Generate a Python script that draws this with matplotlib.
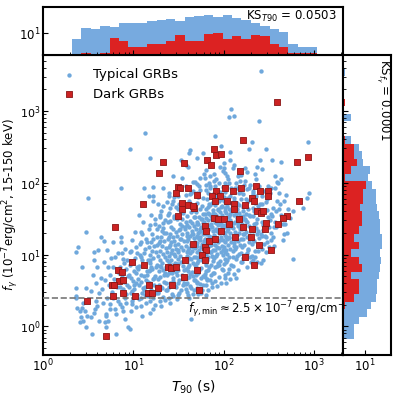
import numpy as np
import matplotlib
matplotlib.use('Agg')
import matplotlib.pyplot as plt
from matplotlib.ticker import NullLocator

# points are (log10 T90 [s], log10 f_gamma [1e-7 erg/cm^2])
typical_outer = [
    (2.41, 3.56), (2.08, 3.03), (2.06, 2.92), (2.12, 2.93), (2.39, 2.86), (1.13, 2.69), (0.96, 2.47),
    (1.90, 2.65), (2.31, 2.57), (1.97, 2.51), (2.28, 2.47), (2.47, 2.47), (2.93, 2.56), (1.19, 2.35),
    (1.63, 2.46), (1.62, 2.42), (2.07, 2.43), (1.77, 2.42), (1.53, 2.32), (1.71, 2.35), (2.54, 2.31),
    (2.63, 2.29), (2.40, 2.32), (2.07, 2.32), (1.58, 2.25), (1.61, 2.22), (2.37, 2.22), (2.43, 2.19),
    (2.00, 2.21), (1.44, 2.10), (1.54, 2.06), (1.66, 2.01), (0.86, 1.93), (0.50, 1.79), (1.12, 1.93),
    (1.22, 1.94), (1.33, 1.92), (1.39, 1.86), (1.17, 1.81), (1.22, 1.82), (1.22, 1.74), (1.27, 1.71),
    (1.50, 1.81), (1.39, 1.81), (1.44, 1.75),
    (2.59, 2.01), (2.60, 1.99), (2.57, 1.93), (2.69, 1.83), (2.94, 1.85), (2.92, 1.79), (2.59, 1.74),
    (2.67, 1.74), (2.88, 1.65), (2.71, 1.64), (2.61, 1.63), (2.77, 1.60), (2.54, 1.54), (2.73, 1.51),
    (2.68, 1.42), (2.58, 1.38), (2.50, 1.38), (2.67, 1.29), (2.41, 1.28), (2.47, 1.25), (2.77, 0.94),
    (2.44, 0.93), (2.37, 0.90), (2.41, 0.88), (2.30, 0.89), (2.33, 0.92), (2.26, 0.83), (2.48, 1.18),
    (2.50, 1.11), (2.46, 1.26), (2.47, 1.03),
]

typical_left = [
    (0.48, 1.31), (0.39, 1.10), (0.64, 1.24), (0.68, 1.19), (0.37, 1.04), (0.56, 1.04), (0.61, 1.07),
    (0.78, 1.17), (0.86, 1.24), (0.86, 1.17), (0.71, 1.07), (0.80, 0.97), (0.89, 0.94), (0.60, 0.83),
    (0.43, 0.83), (0.72, 0.82), (0.96, 1.04), (1.03, 1.10), (1.08, 1.18), (0.64, 0.68), (0.69, 0.65),
    (0.59, 0.61), (0.48, 0.54), (0.53, 0.49), (0.36, 0.43), (0.36, 0.39), (0.43, 0.25), (0.41, 0.22),
    (0.47, 0.21), (0.56, 0.18), (0.58, 0.24), (0.70, 0.17), (0.74, 0.24), (0.80, 0.24), (0.81, 0.17),
    (0.89, 0.21), (0.97, 0.21), (0.92, 0.33), (0.98, 0.31), (0.83, 0.36), (0.91, 0.40), (1.00, 0.40),
    (0.59, 0.35), (0.66, 0.33), (0.74, 0.31), (0.42, 0.13), (0.44, 0.07), (0.48, -0.01), (0.53, 0.13),
    (0.54, -0.11), (0.70, 0.15), (0.81, -0.11), (0.96, -0.03), (0.91, 0.10), (0.72, 0.07), (0.70, -0.01),
    (0.37, 0.53), (0.44, 0.33), (0.38, 0.26), (0.49, 0.14), (0.41, 0.06), (0.62, 0.08), (0.94, -0.01),
    (0.69, 0.06), (1.19, 0.18), (1.22, 0.24), (1.14, 0.33), (1.18, 0.35), (1.64, 0.11),
    (0.55, 0.72), (0.62, 0.47), (0.57, 0.92), (0.60, 0.28), (0.65, 0.52), (0.73, 0.58), (0.67, 0.90),
    (0.71, 0.40), (0.74, 0.71), (0.76, 0.48), (0.79, 0.66), (0.82, 0.55), (0.77, 0.83), (0.84, 0.74),
    (0.75, 0.95), (0.83, 1.02), (0.78, 0.40),
]

typical_core = [
    (0.85, 0.55), (0.87, 0.72), (0.88, 0.48), (0.90, 0.62), (0.92, 0.80), (0.85, 0.31), (0.93, 0.57),
    (0.87, 1.02), (0.90, 0.88), (0.86, 0.66), (0.92, 0.45), (0.89, 0.52), (0.94, 0.70), (0.88, 0.27),
    (0.91, 1.08), (0.93, 0.93), (0.85, 0.82),
    (0.95, 0.55), (0.97, 0.68), (0.99, 0.49), (1.01, 0.77), (1.03, 0.60), (0.96, 0.86), (1.02, 0.95),
    (1.04, 0.44), (0.98, 1.20), (1.00, 0.63), (1.02, 1.31), (0.95, 0.72), (1.04, 0.83), (0.99, 0.36),
    (1.01, 0.52), (0.97, 1.05), (1.03, 0.27), (1.00, 0.90),
    (1.06, 0.58), (1.08, 0.72), (1.10, 0.47), (1.12, 0.85), (1.14, 0.64), (1.07, 0.99), (1.09, 1.32),
    (1.11, 0.53), (1.13, 1.08), (1.06, 0.38), (1.10, 0.92), (1.12, 0.70), (1.14, 1.21), (1.08, 0.29),
    (1.11, 1.45), (1.05, 0.80), (1.13, 0.44), (1.09, 0.62), (1.07, 1.15), (1.12, 1.02), (1.15, 0.77),
    (1.10, 0.15), (1.06, 1.55),
    (1.16, 0.62), (1.18, 0.78), (1.20, 0.51), (1.22, 0.95), (1.24, 0.70), (1.17, 1.10), (1.19, 0.88),
    (1.21, 1.28), (1.23, 0.58), (1.25, 1.03), (1.16, 0.43), (1.20, 1.17), (1.22, 0.66), (1.24, 1.42),
    (1.18, 0.99), (1.21, 0.80), (1.25, 0.47), (1.17, 1.36), (1.23, 1.12), (1.19, 0.60), (1.26, 0.86),
    (1.20, 1.55), (1.16, 0.92), (1.24, 0.30), (1.22, 1.22),
    (1.27, 0.66), (1.29, 0.84), (1.31, 0.55), (1.33, 1.01), (1.35, 0.74), (1.28, 1.16), (1.30, 0.93),
    (1.32, 1.33), (1.34, 0.62), (1.36, 1.09), (1.27, 0.46), (1.31, 1.24), (1.33, 0.79), (1.35, 1.48),
    (1.29, 1.05), (1.32, 0.88), (1.36, 0.51), (1.28, 1.40), (1.34, 1.19), (1.30, 0.69), (1.27, 0.98),
    (1.31, 1.60), (1.33, 0.41), (1.35, 0.97), (1.29, 0.35), (1.32, 1.12), (1.34, 1.30), (1.28, 0.77),
    (1.30, 1.52), (1.36, 0.83), (1.33, 1.68), (1.26, 1.25), (1.31, 0.28),
    (1.37, 0.71), (1.39, 0.89), (1.41, 0.60), (1.43, 1.06), (1.45, 0.79), (1.38, 1.21), (1.40, 0.98),
    (1.42, 1.38), (1.44, 0.67), (1.46, 1.14), (1.37, 0.50), (1.41, 1.29), (1.43, 0.85), (1.45, 1.53),
    (1.39, 1.10), (1.42, 0.93), (1.46, 0.56), (1.38, 1.45), (1.44, 1.24), (1.40, 0.74), (1.37, 1.03),
    (1.41, 1.65), (1.43, 0.45), (1.45, 1.01), (1.39, 0.39), (1.42, 1.17), (1.44, 1.35), (1.38, 0.82),
    (1.40, 1.58), (1.46, 0.88), (1.43, 1.70), (1.36, 1.30), (1.41, 0.32), (1.45, 1.19),
    (1.47, 0.76), (1.49, 0.94), (1.51, 0.65), (1.53, 1.11), (1.55, 0.84), (1.48, 1.26), (1.50, 1.03),
    (1.52, 1.43), (1.54, 0.72), (1.56, 1.19), (1.47, 0.55), (1.51, 1.34), (1.53, 0.90), (1.55, 1.58),
    (1.49, 1.15), (1.52, 0.98), (1.56, 0.61), (1.48, 1.50), (1.54, 1.29), (1.50, 0.79), (1.47, 1.08),
    (1.51, 1.70), (1.53, 0.50), (1.55, 1.06), (1.49, 0.44), (1.52, 1.22), (1.54, 1.40), (1.48, 0.87),
    (1.50, 1.63), (1.57, 0.93),
    (1.58, 0.80), (1.60, 0.98), (1.62, 0.69), (1.64, 1.15), (1.66, 0.88), (1.59, 1.30), (1.61, 1.07),
    (1.63, 1.47), (1.65, 0.76), (1.67, 1.23), (1.58, 0.59), (1.62, 1.38), (1.64, 0.94), (1.66, 1.62),
    (1.60, 1.19), (1.63, 1.02), (1.67, 0.65), (1.59, 1.54), (1.65, 1.33), (1.61, 0.83), (1.58, 1.12),
    (1.62, 1.75), (1.64, 0.54), (1.66, 1.10), (1.60, 0.48), (1.63, 1.26), (1.65, 1.44), (1.59, 0.91),
    (1.61, 1.67), (1.67, 0.97), (1.64, 1.85), (1.57, 1.35), (1.62, 0.40), (1.66, 1.28), (1.60, 1.41),
    (1.63, 0.73), (1.65, 1.05), (1.58, 1.96), (1.61, 1.21), (1.67, 1.52), (1.62, 0.86), (1.59, 0.67),
    (1.64, 1.59), (1.66, 0.45),
    (1.68, 0.85), (1.70, 1.03), (1.72, 0.74), (1.74, 1.20), (1.76, 0.93), (1.69, 1.35), (1.71, 1.12),
    (1.73, 1.52), (1.75, 0.81), (1.77, 1.28), (1.68, 0.64), (1.72, 1.43), (1.74, 0.99), (1.76, 1.67),
    (1.70, 1.24), (1.73, 1.07), (1.77, 0.70), (1.69, 1.59), (1.75, 1.38), (1.71, 0.88), (1.68, 1.17),
    (1.72, 1.80), (1.74, 0.59), (1.76, 1.15), (1.70, 0.53), (1.73, 1.31), (1.75, 1.49), (1.69, 0.96),
    (1.71, 1.72), (1.77, 1.02), (1.74, 1.90), (1.67, 1.40), (1.72, 0.45), (1.76, 1.33), (1.70, 1.46),
    (1.73, 0.78), (1.75, 1.10), (1.68, 2.01), (1.71, 1.26), (1.77, 1.57), (1.72, 0.91), (1.69, 0.72),
    (1.74, 1.64), (1.76, 0.50), (1.78, 1.19), (1.70, 1.85), (1.73, 1.21), (1.75, 0.67), (1.68, 1.09),
    (1.77, 1.79), (1.71, 0.60), (1.74, 1.36),
    (1.79, 0.90), (1.81, 1.08), (1.83, 0.79), (1.85, 1.25), (1.87, 0.98), (1.80, 1.40), (1.82, 1.17),
    (1.84, 1.57), (1.86, 0.86), (1.88, 1.33), (1.79, 0.69), (1.83, 1.48), (1.85, 1.04), (1.87, 1.72),
    (1.81, 1.29), (1.84, 1.12), (1.88, 0.75), (1.80, 1.64), (1.86, 1.43), (1.82, 0.93), (1.79, 1.22),
    (1.83, 1.85), (1.85, 0.64), (1.87, 1.20), (1.81, 0.58), (1.84, 1.36), (1.86, 1.54), (1.80, 1.01),
    (1.82, 1.77), (1.88, 1.07), (1.85, 1.95), (1.78, 1.45), (1.83, 0.50), (1.87, 1.38), (1.81, 1.51),
    (1.84, 0.83), (1.86, 1.15), (1.79, 2.06), (1.82, 1.31), (1.88, 1.62), (1.83, 0.96), (1.80, 0.77),
    (1.85, 1.69), (1.87, 0.55), (1.81, 1.90), (1.84, 1.26), (1.86, 0.72), (1.79, 1.14), (1.88, 1.84),
    (1.82, 0.65), (1.85, 1.41), (1.80, 2.18), (1.83, 1.19), (1.87, 1.49), (1.84, 2.00), (1.86, 1.03),
    (1.81, 0.44), (1.79, 1.56), (1.83, 1.66), (1.88, 0.91),
    (1.89, 0.95), (1.91, 1.13), (1.93, 0.84), (1.95, 1.30), (1.97, 1.03), (1.90, 1.45), (1.92, 1.22),
    (1.94, 1.62), (1.96, 0.91), (1.98, 1.38), (1.89, 0.74), (1.93, 1.53), (1.95, 1.09), (1.97, 1.77),
    (1.91, 1.34), (1.94, 1.17), (1.98, 0.80), (1.90, 1.69), (1.96, 1.48), (1.92, 0.98), (1.89, 1.27),
    (1.93, 1.90), (1.95, 0.69), (1.97, 1.25), (1.91, 0.63), (1.94, 1.41), (1.96, 1.59), (1.90, 1.06),
    (1.92, 1.82), (1.98, 1.12), (1.95, 2.00), (1.88, 1.50), (1.93, 0.56), (1.97, 1.43), (1.91, 1.56),
    (1.94, 0.88), (1.96, 1.20), (1.89, 2.12), (1.92, 1.36), (1.98, 1.67), (1.93, 1.01), (1.90, 0.82),
    (1.95, 1.74), (1.97, 0.60), (1.91, 1.95),
    (1.99, 1.00), (2.01, 1.18), (2.03, 0.89), (2.05, 1.35), (2.07, 1.08), (2.00, 1.50), (2.02, 1.27),
    (2.04, 1.67), (2.06, 0.96), (2.08, 1.43), (1.99, 0.79), (2.03, 1.58), (2.05, 1.14), (2.07, 1.82),
    (2.01, 1.39), (2.04, 1.22), (2.08, 0.85), (2.00, 1.74), (2.06, 1.53), (2.02, 1.03), (1.99, 1.32),
    (2.03, 1.95), (2.05, 0.74), (2.07, 1.30), (2.01, 0.68), (2.04, 1.46), (2.06, 1.64), (2.00, 1.11),
    (2.02, 1.87), (2.08, 1.17), (2.05, 2.05), (1.98, 1.55), (2.03, 0.61), (2.07, 1.48), (2.01, 1.61),
    (2.04, 0.93), (2.06, 1.25), (1.99, 2.16), (2.02, 1.41), (2.08, 1.72), (2.03, 1.06), (2.00, 0.87),
    (2.05, 1.79), (2.07, 0.66), (2.01, 2.00), (2.04, 1.33), (2.06, 0.80), (1.99, 1.20), (2.08, 1.92),
    (2.02, 0.72), (2.05, 1.46), (2.00, 2.27), (2.03, 1.24), (2.07, 1.57), (2.04, 2.09),
    (2.10, 1.05), (2.12, 1.23), (2.14, 0.94), (2.16, 1.40), (2.18, 1.13), (2.11, 1.55), (2.13, 1.32),
    (2.15, 1.72), (2.17, 1.01), (2.19, 1.48), (2.10, 0.84), (2.14, 1.63), (2.16, 1.19), (2.18, 1.87),
    (2.12, 1.44), (2.15, 1.27), (2.19, 0.90), (2.11, 1.79), (2.17, 1.58), (2.13, 1.08), (2.10, 1.37),
    (2.14, 2.00), (2.16, 0.79), (2.18, 1.35), (2.12, 0.73), (2.15, 1.51), (2.17, 1.69), (2.11, 1.16),
    (2.13, 1.92), (2.19, 1.22), (2.16, 2.10), (2.09, 1.60), (2.14, 0.68), (2.18, 1.53), (2.12, 1.66),
    (2.15, 0.98), (2.17, 1.30), (2.10, 2.20), (2.13, 1.46), (2.19, 1.77), (2.14, 1.11),
    (2.20, 1.10), (2.22, 1.28), (2.24, 0.99), (2.26, 1.45), (2.28, 1.18), (2.21, 1.60), (2.23, 1.37),
    (2.25, 1.77), (2.27, 1.06), (2.29, 1.53), (2.20, 0.90), (2.24, 1.68), (2.26, 1.24), (2.28, 1.92),
    (2.22, 1.49), (2.25, 1.32), (2.29, 0.96), (2.21, 1.84), (2.27, 1.63), (2.23, 1.13), (2.20, 1.42),
    (2.24, 2.03), (2.26, 1.02), (2.28, 1.40), (2.22, 0.95), (2.25, 1.56), (2.27, 1.74), (2.21, 1.21),
    (2.23, 1.97), (2.29, 1.27), (2.26, 2.15), (2.24, 1.50),
    (2.31, 1.15), (2.33, 1.33), (2.35, 1.05), (2.37, 1.50), (2.39, 1.23), (2.32, 1.65), (2.34, 1.42),
    (2.36, 1.82), (2.38, 1.12), (2.40, 1.58), (2.31, 0.98), (2.35, 1.72), (2.37, 1.29), (2.39, 1.95),
    (2.33, 1.54), (2.36, 1.37), (2.32, 1.88), (2.38, 1.68), (2.34, 1.19), (2.36, 2.05),
    (2.42, 1.45), (2.44, 1.62), (2.46, 1.38), (2.48, 1.78), (2.43, 1.08), (2.45, 1.88), (2.49, 1.52),
    (2.42, 1.70), (2.52, 1.20), (2.55, 1.65), (2.57, 1.45), (2.51, 1.85), (2.56, 1.12), (2.53, 1.30),
    (2.64, 1.55), (2.66, 1.20),
]

typical_fill = [
    (1.03, 0.74), (1.47, 1.31), (2.21, 1.66), (1.88, 0.97), (1.62, 1.09), (2.05, 1.52), (1.34, 0.71),
    (1.77, 1.44), (2.13, 1.20), (1.55, 0.66), (1.96, 1.87), (1.21, 1.05), (2.34, 1.61), (1.69, 0.83),
    (1.83, 1.58), (2.44, 1.41), (1.12, 0.50), (1.91, 1.25), (1.58, 1.46), (2.27, 1.08), (1.41, 1.13),
    (2.02, 0.94), (1.73, 1.95), (1.28, 0.58), (2.17, 1.85), (1.65, 1.28), (1.94, 1.63), (1.50, 0.87),
    (2.38, 1.33), (1.86, 1.13), (1.17, 0.77), (2.09, 1.38), (1.79, 0.73), (1.45, 1.51), (2.25, 1.47),
    (1.60, 0.60), (1.99, 1.06), (1.37, 0.92), (2.14, 1.57), (1.71, 1.16), (1.08, 0.96), (1.53, 1.22),
    (1.92, 1.44), (2.31, 1.82), (1.66, 0.70), (1.84, 1.71), (2.06, 1.23), (1.26, 1.14), (1.75, 1.35),
    (2.19, 1.02), (1.44, 0.63), (1.97, 1.66), (1.59, 1.03), (2.42, 1.26), (1.81, 0.85), (1.33, 1.44),
    (2.11, 1.75), (1.68, 1.52), (1.89, 1.19), (1.23, 0.67), (2.28, 1.55), (1.56, 0.78), (2.00, 1.30),
    (1.42, 1.02), (1.78, 1.06), (2.16, 1.43), (1.63, 1.84), (1.95, 0.85), (1.15, 1.17), (2.36, 1.44),
    (1.72, 0.95), (1.87, 1.49), (2.03, 1.72), (1.48, 0.72), (1.30, 1.19), (2.23, 1.29), (1.82, 1.36),
    (1.57, 1.39), (2.10, 0.96), (1.93, 1.10), (1.05, 0.66), (1.38, 1.55), (1.74, 1.25), (2.08, 1.61),
    (1.61, 0.77), (1.85, 1.92), (2.20, 1.35), (1.49, 1.07), (1.98, 1.41), (1.70, 1.42), (2.32, 1.20),
    (1.25, 0.83), (1.90, 1.78), (1.54, 1.50), (2.12, 1.12), (1.80, 1.03), (1.36, 0.61), (2.01, 1.65),
    (1.67, 1.13), (2.40, 1.70), (1.19, 0.93), (1.64, 1.71), (1.93, 1.33), (2.26, 1.91), (1.46, 0.98),
    (1.76, 1.50), (2.04, 1.01), (1.52, 1.36), (1.88, 1.58), (2.15, 1.63), (1.31, 0.82), (1.72, 1.30),
    (2.07, 1.40), (1.59, 1.26), (1.95, 1.45), (1.40, 1.24), (2.22, 1.54), (1.83, 1.22), (1.62, 0.95),
    (2.00, 1.80),
    (1.71, 1.98), (1.85, 2.09), (2.02, 2.14), (2.18, 2.03), (2.29, 1.97), (1.96, 2.22), (2.11, 2.25),
    (1.78, 2.12), (2.35, 2.12), (1.92, 2.05), (2.06, 1.99), (2.24, 2.20), (1.66, 1.88), (1.81, 1.97),
    (2.15, 1.93), (2.33, 1.86), (1.99, 1.94), (2.19, 2.11), (1.74, 2.07), (1.89, 2.02),
    (1.27, 0.48), (1.39, 0.55), (1.51, 0.47), (1.63, 0.56), (1.44, 0.42), (1.58, 0.52), (1.70, 0.62),
    (1.35, 0.37), (1.49, 0.61), (1.77, 0.57), (1.22, 0.40), (1.61, 0.44), (1.43, 0.75), (1.55, 0.58),
    (1.67, 0.51), (1.82, 0.66), (1.32, 0.53), (1.48, 0.38), (1.75, 0.46), (1.87, 0.61),
    (2.38, 1.05), (2.45, 1.15), (2.51, 1.48), (2.56, 1.38), (2.62, 1.70), (2.48, 1.62), (2.53, 1.92),
    (2.43, 1.82), (2.58, 1.60), (2.66, 1.42), (2.35, 0.97), (2.47, 1.73), (2.55, 1.25), (2.61, 1.85),
    (2.70, 1.30), (2.52, 1.56), (2.44, 1.34), (2.64, 2.05), (2.57, 2.10), (2.49, 1.95),
    (1.10, 1.28), (1.18, 1.41), (1.29, 1.55), (1.37, 1.73), (1.45, 1.80), (1.24, 1.49), (1.33, 1.37),
    (1.15, 0.71), (1.06, 0.84), (1.20, 0.82), (1.01, 0.58), (1.13, 0.55), (0.97, 0.46), (1.09, 0.39),
    (1.04, 1.02), (1.26, 1.36), (1.41, 1.47), (1.52, 1.70), (1.58, 1.83), (1.47, 1.66),
]

dark = [
    (1.33, 2.29), (1.56, 2.28), (1.28, 2.13), (1.49, 1.94), (1.52, 1.92), (1.61, 1.92), (1.47, 1.85),
    (1.70, 1.83), (1.11, 1.71), (1.54, 1.72), (1.61, 1.69), (1.67, 1.65), (2.59, 3.13), (2.22, 2.60),
    (1.89, 2.47), (1.92, 2.39), (1.97, 2.40), (1.82, 2.31), (1.86, 2.24), (2.18, 2.17), (2.81, 2.29),
    (2.93, 2.36), (2.02, 1.93), (1.92, 1.89), (2.10, 1.88), (2.19, 1.92), (2.36, 1.96), (2.40, 1.88),
    (2.49, 1.89), (2.49, 1.81), (1.87, 1.81), (1.96, 1.81), (1.90, 1.75), (2.04, 1.75), (2.12, 1.71),
    (2.31, 1.79), (2.34, 1.74), (2.24, 1.69), (2.83, 1.75), (2.11, 1.64), (1.66, 1.67), (1.54, 1.64),
    (1.49, 1.54), (1.89, 1.51), (1.94, 1.50), (2.00, 1.50), (2.17, 1.50), (2.06, 1.43), (1.79, 1.40),
    (2.22, 1.38), (1.80, 1.33), (1.97, 1.33), (2.13, 1.25), (1.90, 1.21), (2.37, 1.61), (2.41, 1.58),
    (2.44, 1.60), (2.70, 1.54), (2.66, 1.51), (2.47, 1.44), (2.60, 1.43), (2.31, 1.35), (2.46, 1.35),
    (2.30, 1.25), (1.84, 1.19), (1.66, 1.15), (2.39, 1.14), (2.52, 1.07), (1.79, 1.11), (1.80, 1.07),
    (2.24, 0.97), (2.34, 0.86), (1.76, 1.00), (1.79, 0.93), (1.57, 0.92), (1.70, 0.79), (1.73, 0.50),
    (1.38, 0.82), (1.42, 0.81), (1.47, 0.82), (1.12, 0.86), (1.56, 0.69), (1.43, 0.57), (1.17, 0.58),
    (1.27, 0.53), (1.16, 0.46), (1.21, 0.46), (0.80, 1.39), (0.98, 0.89), (0.83, 0.79), (0.88, 0.76),
    (0.84, 0.63), (0.89, 0.64), (0.76, 0.58), (0.79, 0.57), (0.78, 0.43), (0.89, 0.46), (1.02, 0.43),
    (0.49, 0.36), (0.70, -0.13),
]

# side histograms (counts; log10 bin range)
t90_hist_range = (0.32, 3.03)
t90_counts_typical = [5, 18, 16, 23, 21, 34, 32, 34, 43, 46, 50, 43, 68, 73, 82, 63, 82, 56, 46, 34, 23, 16, 11, 3, 2, 2]
t90_counts_dark = [0, 1, 0, 1, 6, 4, 2, 2, 3, 3, 4, 8, 4, 4, 9, 10, 5, 7, 5, 8, 7, 3, 2, 1, 1, 1]

flux_hist_range = (-0.18, 3.59)
# bottom to top
flux_counts_typical = [3, 3, 5, 13, 21, 35, 41, 43, 53, 61, 67, 61, 73, 73, 61, 61, 50, 43, 38, 38,
                       24, 15, 19, 8, 7, 5, 2, 0, 0, 2, 0, 1, 0, 0, 0, 1]
flux_counts_dark = [0, 0, 0, 0, 1, 3, 5, 5, 2, 7, 5, 2, 5, 3, 5, 7, 7, 6, 8, 8,
                    11, 1, 2, 4, 3, 3, 1, 0, 0, 0, 0, 1, 0, 0, 0, 0]

blue = '#6fa8dc'
hist_blue = '#77aadf'
hist_red = '#dc2222'

typ = np.array(typical_outer + typical_left + typical_core + typical_fill)
drk = np.array(dark)

fig = plt.figure(figsize=(3.99, 3.99), dpi=100)
ax = fig.add_axes([0.1078, 0.1103, 0.7519, 0.7519])
ax_top = fig.add_axes([0.1078, 0.8622, 0.7519, 0.1203], sharex=ax)
ax_right = fig.add_axes([0.8596, 0.1103, 0.1203, 0.7519], sharey=ax)

for a in (ax, ax_top, ax_right):
    for s in a.spines.values():
        s.set_linewidth(1.5)
        s.set_color('black')

# main scatter
ax.scatter(10 ** typ[:, 0], 10 ** typ[:, 1], s=10, color=blue, linewidths=0, label='Typical GRBs', zorder=2)
ax.scatter(10 ** drk[:, 0], 10 ** drk[:, 1], s=15, marker='s', facecolor='#cc2222',
           edgecolor='#8a1515', linewidths=0.6, label='Dark GRBs', zorder=4)
ax.axhline(2.5, color='#777777', ls='--', lw=1.2, zorder=3)
ax.text(40, 1.72, r'$f_{\gamma,\rm min} \approx 2.5\times10^{-7}$ erg/cm$^{-2}$',
        fontsize=8.5, ha='left', va='center')

ax.set_xscale('log')
ax.set_yscale('log')
ax.tick_params(which='both', direction='in', labelsize=8.5, pad=2)
ax.tick_params(axis='y', labelsize=8, pad=2)
ax.set_xlabel(r'$T_{90}$ (s)', fontsize=10, labelpad=3)
ax.set_ylabel(r'$f_{\gamma}$ (10$^{-7}$erg/cm$^{2}$, 15-150 keV)', fontsize=8.5)
ax.yaxis.set_label_coords(-0.072, 0.5)
ax.legend(loc='upper left', frameon=False, fontsize=9.5, borderaxespad=0.6)

# top histogram
t_edges = np.logspace(t90_hist_range[0], t90_hist_range[1], len(t90_counts_typical) + 1)
ax_top.bar(t_edges[:-1], t90_counts_typical, width=np.diff(t_edges), align='edge', color=hist_blue, linewidth=0)
ax_top.bar(t_edges[:-1], t90_counts_dark, width=np.diff(t_edges), align='edge', color=hist_red, linewidth=0)
ax_top.set_yscale('log')
ax_top.set_ylim(0.82, 206)
ax_top.set_yticks([10])
ax_top.yaxis.set_minor_locator(NullLocator())
ax_top.tick_params(axis='x', which='both', direction='in', labelbottom=False)
ax_top.tick_params(axis='y', which='both', direction='in', labelsize=8.5, pad=2)
ax_top.text(0.98, 0.81, r'KS$_{T90}$ = 0.0503', transform=ax_top.transAxes, ha='right', va='center', fontsize=8.5)

# right histogram
f_edges = np.logspace(flux_hist_range[0], flux_hist_range[1], len(flux_counts_typical) + 1)
ax_right.barh(f_edges[:-1], flux_counts_typical, height=np.diff(f_edges), align='edge', color=hist_blue, linewidth=0)
ax_right.barh(f_edges[:-1], flux_counts_dark, height=np.diff(f_edges), align='edge', color=hist_red, linewidth=0)
ax_right.set_xscale('log')
ax_right.set_xlim(0.82, 206)
ax_right.set_xticks([10])
ax_right.xaxis.set_minor_locator(NullLocator())
ax_right.tick_params(axis='y', which='both', direction='in', labelleft=False)
ax_right.tick_params(axis='x', which='both', direction='in', labelsize=8.5, pad=2)
ax_right.text(0.83, 0.985, r'KS$_{f_\gamma}$ = 0.0001', transform=ax_right.transAxes, rotation=270,
              ha='center', va='top', fontsize=8.5)

ax.set_xlim(1, 2100)
ax.set_ylim(0.4, 6000)

plt.savefig('out.png', dpi=100)
